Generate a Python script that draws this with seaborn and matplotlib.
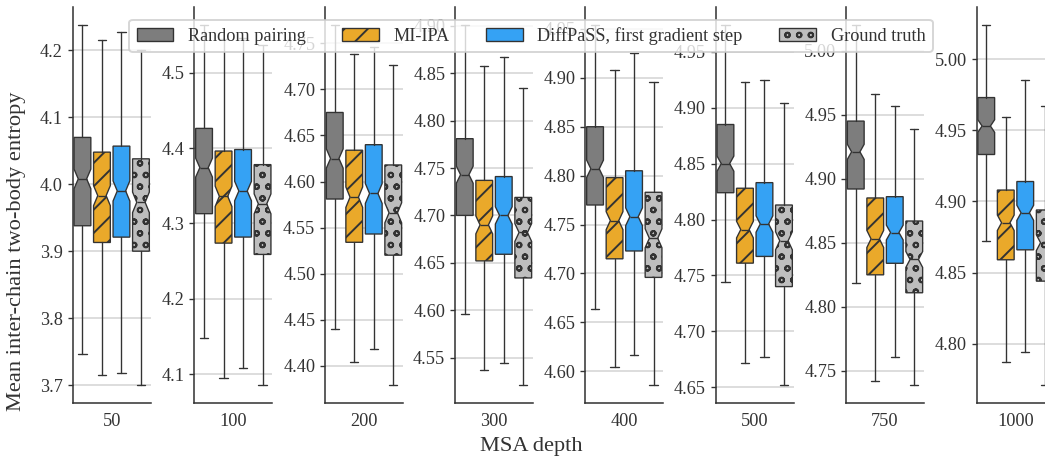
import matplotlib
matplotlib.use("Agg")
import matplotlib.pyplot as plt
import matplotlib.patches as mpatches
from matplotlib.ticker import MultipleLocator
import seaborn as sns
import numpy as np

# ---------------- data ----------------
depths = ["50", "100", "200", "300", "400", "500", "750", "1000"]
methods = ["Random pairing", "MI-IPA", "DiffPaSS, first gradient step", "Ground truth"]

random_lo  = [3.747, 4.148, 4.440, 4.596, 4.664, 4.744, 4.819, 4.872]
random_q1  = [3.938, 4.313, 4.581, 4.700, 4.770, 4.824, 4.892, 4.933]
random_med = [4.008, 4.374, 4.625, 4.743, 4.807, 4.850, 4.921, 4.953]
random_q3  = [4.070, 4.426, 4.675, 4.781, 4.850, 4.885, 4.945, 4.973]
random_hi  = [4.238, 4.563, 4.770, 4.901, 4.954, 4.974, 5.020, 5.024]

mi_lo  = [3.715, 4.095, 4.404, 4.537, 4.604, 4.672, 4.742, 4.787]
mi_q1  = [3.913, 4.274, 4.534, 4.652, 4.715, 4.761, 4.825, 4.859]
mi_med = [3.983, 4.336, 4.583, 4.690, 4.754, 4.791, 4.853, 4.885]
mi_q3  = [4.048, 4.396, 4.634, 4.737, 4.798, 4.828, 4.885, 4.908]
mi_hi  = [4.215, 4.545, 4.738, 4.858, 4.908, 4.923, 4.966, 4.959]

diff_lo  = [3.718, 4.108, 4.418, 4.544, 4.617, 4.677, 4.761, 4.794]
diff_q1  = [3.921, 4.282, 4.543, 4.659, 4.723, 4.767, 4.834, 4.866]
diff_med = [3.990, 4.343, 4.587, 4.700, 4.758, 4.796, 4.858, 4.892]
diff_q3  = [4.057, 4.398, 4.640, 4.741, 4.805, 4.833, 4.886, 4.914]
diff_hi  = [4.227, 4.546, 4.746, 4.867, 4.925, 4.925, 4.957, 4.985]

gt_lo  = [3.700, 4.086, 4.379, 4.521, 4.586, 4.652, 4.739, 4.771]
gt_q1  = [3.900, 4.259, 4.520, 4.634, 4.696, 4.740, 4.811, 4.844]
gt_med = [3.973, 4.326, 4.566, 4.682, 4.736, 4.781, 4.837, 4.871]
gt_q3  = [4.038, 4.378, 4.618, 4.719, 4.783, 4.813, 4.867, 4.894]
gt_hi  = [4.200, 4.536, 4.727, 4.835, 4.896, 4.904, 4.939, 4.967]

n_samples = 200  # samples per box (sets notch size)

# ---------------- style ----------------
sns.set_theme(style="ticks")
plt.rcParams["font.family"] = ["Liberation Serif", "DejaVu Serif"]
plt.rcParams["hatch.linewidth"] = 1.0

colors = sns.color_palette(["#7d7d7d", "#EAA92A", "#35A2F4", "#BEBEBE"])
hatches = [None, "//", None, "oo"]
edge = "#333333"

all_stats = [
    (random_lo, random_q1, random_med, random_q3, random_hi),
    (mi_lo, mi_q1, mi_med, mi_q3, mi_hi),
    (diff_lo, diff_q1, diff_med, diff_q3, diff_hi),
    (gt_lo, gt_q1, gt_med, gt_q3, gt_hi),
]
tick_steps = [0.1, 0.1, 0.05, 0.05, 0.05, 0.05, 0.05, 0.05]

W, H, DPI = 1045, 457, 140
fig = plt.figure(figsize=(W / DPI, H / DPI), dpi=DPI)

lefts_px = [72.7, 194.3, 325, 455, 585.3, 715.7, 846, 976.5]
ax_w_px = 78
ax_top_px, ax_bot_px = 7, 403

for i, depth in enumerate(depths):
    ax = fig.add_axes([lefts_px[i] / W, 1 - ax_bot_px / H,
                       ax_w_px / W, (ax_bot_px - ax_top_px) / H])
    stats = []
    for m, (lo, q1, med, q3, hi) in enumerate(all_stats):
        iqr = q3[i] - q1[i]
        half = 1.57 * iqr / np.sqrt(n_samples)
        stats.append(dict(whislo=lo[i], q1=q1[i], med=med[i], q3=q3[i],
                          whishi=hi[i], cilo=med[i] - half, cihi=med[i] + half,
                          fliers=[], label=methods[m]))
    art = ax.bxp(stats, positions=[0, 1, 2, 3], widths=0.86, patch_artist=True,
                 shownotches=True, showfliers=False, manage_ticks=False,
                 capwidths=0.42,
                 boxprops=dict(edgecolor=edge, linewidth=0.7),
                 whiskerprops=dict(color=edge, linewidth=0.7),
                 capprops=dict(color=edge, linewidth=0.7),
                 medianprops=dict(color=edge, linewidth=0.7))
    for b, c, h in zip(art["boxes"], colors, hatches):
        b.set_facecolor(c)
        if h:
            b.set_hatch(h)
    ax.set_xlim(-0.5, 3.5)
    ax.set_xticks([1.5])
    ax.set_xticklabels([depth])
    ax.yaxis.set_major_locator(MultipleLocator(tick_steps[i]))
    ax.grid(axis="y", color="#d4d4d4", linewidth=0.8)
    ax.set_axisbelow(True)
    ax.tick_params(axis="x", length=0, pad=5, labelsize=9.4, colors=".2")
    ax.tick_params(axis="y", length=2.5, width=0.7, pad=2.5, labelsize=9.4,
                   colors=".2")
    sns.despine(ax=ax)
    for s in ["left", "bottom"]:
        ax.spines[s].set_color(".2")
        ax.spines[s].set_linewidth(0.8)

handles = [mpatches.Patch(facecolor=c, edgecolor=edge, hatch=h, linewidth=0.7,
                          label=lab)
           for c, h, lab in zip(colors, hatches, methods)]
fig.legend(handles=handles, loc="upper center", ncol=4, fontsize=9.4,
           bbox_to_anchor=(531 / W, 1 - 10.5 / H), framealpha=0.8,
           labelcolor=".2")

fig.text(531 / W, 1 - 446.5 / H, "MSA depth", ha="center", va="center",
         fontsize=11.5, color=".2")
fig.text(17 / W, 1 - 251 / H, "Mean inter-chain two-body entropy",
         ha="center", va="center", rotation=90, fontsize=11.5, color=".2")

fig.savefig("out.png", dpi=DPI)
